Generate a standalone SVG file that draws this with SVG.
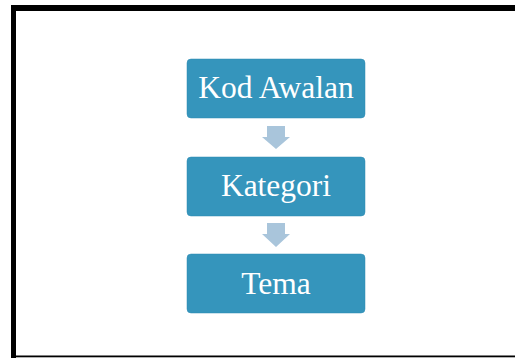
<svg xmlns="http://www.w3.org/2000/svg" width="515" height="358" viewBox="0 0 515 358">
<style>
.box{fill:#3595BC;stroke:#2F8BB3;stroke-width:0.5}
.lbl{font-family:"Liberation Serif","Times New Roman",serif;font-size:31.5px;fill:#FFFFFF;text-anchor:middle}
.arr{fill:#A9C5DB}
</style>
<rect width="515" height="358" fill="#FFFFFF"/>
<g id="frame">
<rect x="11" y="5" width="504" height="6" fill="#000000"/>
<rect x="11" y="5" width="5" height="353" fill="#000000"/>
<rect x="11" y="355.5" width="504" height="1.8" fill="#000000"/>
</g>
<g id="node-kod-awalan">
<rect class="box" x="187" y="59" width="178" height="59" rx="4"/>
<text class="lbl" x="276" y="97.5">Kod Awalan</text>
</g>
<g id="node-kategori">
<rect class="box" x="187" y="157" width="178" height="59" rx="4"/>
<text class="lbl" x="276" y="195.5">Kategori</text>
</g>
<g id="node-tema">
<rect class="box" x="187" y="254" width="178" height="59" rx="4"/>
<text class="lbl" x="276" y="293.5">Tema</text>
</g>
<g id="connectors">
<polygon class="arr" points="267,126 285,126 285,137 290,137 276,149 262,137 267,137"/>
<polygon class="arr" points="267,223 285,223 285,234 290,234 276,247 262,234 267,234"/>
</g>
</svg>
